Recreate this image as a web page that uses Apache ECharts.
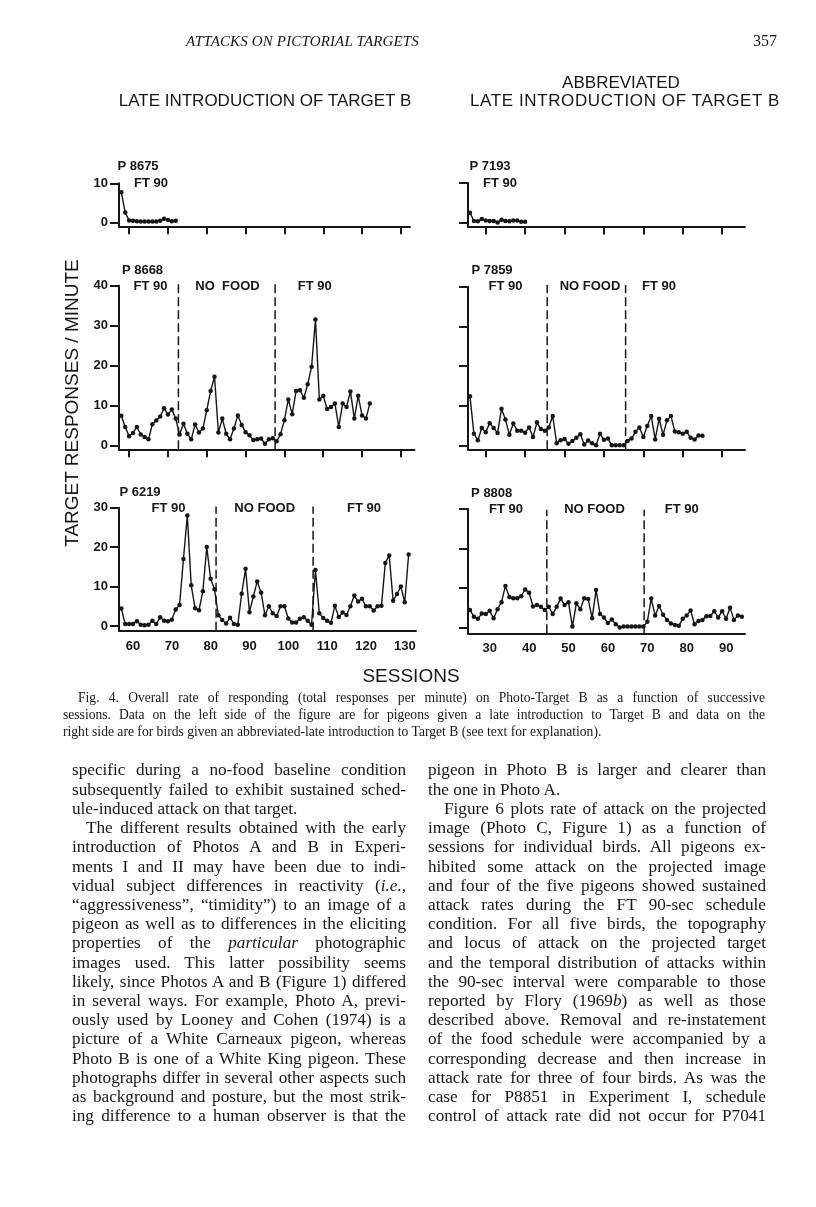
<!DOCTYPE html>
<html>
<head>
<meta charset="utf-8">
<script src="https://cdn.jsdelivr.net/npm/echarts@6/dist/echarts.min.js"></script>
<style>
body{margin:0;background:#fff;}
#page{position:relative;width:816px;height:1207px;overflow:hidden;background:#fff;}
#chart{position:absolute;left:0;top:0;width:816px;height:1207px;}
.tx{position:absolute;color:#161616;white-space:nowrap;}
.sans{font-family:"Liberation Sans",Arial,sans-serif;}
.serif{font-family:"Liberation Serif","Times New Roman",serif;}
.ln{position:absolute;font-family:"Liberation Serif","Times New Roman",serif;font-size:17.2px;line-height:19.2px;height:19.2px;text-align:justify;text-align-last:justify;color:#161616;}
.cap{position:absolute;font-family:"Liberation Serif","Times New Roman",serif;font-size:13.6px;line-height:17px;height:17px;text-align:justify;text-align-last:justify;color:#161616;}
.end{text-align-last:left;}
</style>
</head>
<body>
<div id="page">
  <div id="chart"></div>
  <div class="tx serif" style="left:186px;top:33px;font-size:15px;font-style:italic;letter-spacing:0.15px;">ATTACKS ON PICTORIAL TARGETS</div>
  <div class="tx serif" style="left:753px;top:32px;font-size:16px;">357</div>
  <div class="tx sans" style="left:521px;top:73px;width:200px;text-align:center;font-size:17px;">ABBREVIATED</div>
  <div class="tx sans" style="left:115px;top:91px;width:300px;text-align:center;font-size:17px;">LATE INTRODUCTION OF TARGET B</div>
  <div class="tx sans" style="left:465px;top:91px;width:320px;text-align:center;font-size:17px;letter-spacing:0.6px;">LATE INTRODUCTION OF TARGET B</div>
  <div class="tx sans" style="left:-78px;top:392px;width:300px;text-align:center;font-size:19px;transform:rotate(-90deg);">TARGET RESPONSES / MINUTE</div>
  <div class="tx sans" style="left:311px;top:665px;width:200px;text-align:center;font-size:19px;">SESSIONS</div>
  <div id="text"></div>
</div>
<script>
// 各鸽子的数据 (sessions are successive, starting at the first session)
var leftTicks = [60, 70, 80, 90, 100, 110, 120, 130];
var rightTicks = [30, 40, 50, 60, 70, 80, 90];

var p8675Start = 58;
var p8675 = [7.7, 2.5, 0.5, 0.4, 0.3, 0.2, 0.2, 0.2, 0.2, 0.2, 0.4, 0.9, 0.6, 0.3, 0.4];

var p8668Start = 58;
var p8668 = [7.4, 4.6, 2.3, 3.1, 4.6, 2.7, 2.1, 1.5, 5.3, 6.2, 7.2, 9.3, 7.7, 9.0, 6.7,
	2.7, 5.4, 2.9, 1.5, 5.2, 3.2, 4.2, 8.8, 13.6, 17.2, 3.2, 6.7, 2.9, 1.5, 4.2, 7.5, 5.1, 3.3, 2.5, 1.3, 1.5, 1.7, 0.4, 1.5, 1.8,
	1.0, 2.8, 6.3, 11.5, 7.8, 13.6, 13.8, 11.9, 15.3, 19.7, 31.5, 11.5, 12.4, 9.1, 9.6, 10.5, 4.6, 10.5, 9.6, 13.5, 6.7, 12.4, 7.5, 6.7, 10.5];
var p8668Phases = [72.7, 97.6];

var p6219Start = 58;
var p6219 = [4.4, 0.5, 0.5, 0.5, 1.2, 0.3, 0.2, 0.3, 1.3, 0.5, 2.2, 1.3, 1.2, 1.6, 4.2, 5.3, 17, 28, 10.3, 4.5, 4.0, 8.8, 20, 12, 9.3,
	2.7, 1.5, 0.6, 2.1, 0.5, 0.3, 8.2, 14.5, 3.5, 7.5, 11.3, 8.5, 2.7, 5.0, 3.2, 2.5, 5.0, 5.0, 1.9, 0.9, 0.9, 1.8, 2.2, 1.3, 0.3,
	14.2, 3.2, 2.0, 1.3, 0.8, 5.1, 2.3, 3.4, 2.8, 5.0, 7.7, 6.2, 6.9, 5.0, 5.0, 3.9, 5.0, 5.1, 16, 17.9, 6.4, 8.1, 10, 6.0, 18.1];
var p6219Phases = [82.4, 107.4];

var p7193Start = 26;
var p7193 = [2.5, 0.4, 0.3, 0.9, 0.5, 0.4, 0.4, 0.0, 0.7, 0.4, 0.3, 0.5, 0.5, 0.2, 0.2];

var p7859Start = 26;
var p7859 = [12.4, 2.9, 1.3, 4.4, 3.3, 5.6, 4.4, 3.1, 9.2, 6.5, 2.7, 5.5, 3.7, 3.7, 3.2, 4.5, 2.1, 5.8, 4.1, 3.7,
	4.5, 7.4, 0.5, 1.3, 1.6, 0.4, 1.1, 1.9, 2.8, 0.2, 1.2, 0.5, 0.0, 2.9, 1.4, 1.7, 0.0, 0.0, 0.0, 0.0,
	1.1, 1.7, 3.4, 4.5, 2.1, 4.9, 7.4, 1.5, 6.7, 2.7, 6.3, 7.4, 3.5, 3.3, 2.9, 3.4, 1.9, 1.5, 2.5, 2.4];
var p7859Phases = [45.6, 65.5];

var p8808Start = 26;
var p8808 = [4.4, 2.7, 2.2, 3.5, 3.4, 4.2, 2.3, 4.6, 6.4, 10.5, 7.7, 7.4, 7.4, 7.9, 9.6, 8.8, 5.3, 5.7, 5.2, 4.4,
	5.2, 3.4, 5.2, 7.3, 5.7, 6.4, 0.2, 6.1, 4.6, 7.4, 7.2, 2.3, 9.5, 3.4, 2.5, 1.1, 2.0, 0.8, 0.0, 0.2, 0.2, 0.2, 0.2, 0.2, 0.2,
	1.4, 7.3, 3.0, 5.4, 3.2, 1.9, 1.0, 0.6, 0.4, 2.2, 3.0, 4.3, 0.8, 1.6, 1.9, 2.8, 2.9, 4.1, 2.5, 4.1, 2.2, 5.0, 1.9, 3.0, 2.7];
var p8808Phases = [45.5, 70.2];

var leftLines = [
	'specific during a no-food baseline condition',
	'subsequently failed to exhibit sustained sched-',
	'ule-induced attack on that target.',
	'The different results obtained with the early',
	'introduction of Photos A and B in Experi-',
	'ments I and II may have been due to indi-',
	'vidual subject differences in reactivity (<i>i.e.</i>,',
	'\u201caggressiveness\u201d, \u201ctimidity\u201d) to an image of a',
	'pigeon as well as to differences in the eliciting',
	'properties of the <i>particular</i> photographic',
	'images used. This latter possibility seems',
	'likely, since Photos A and B (Figure 1) differed',
	'in several ways. For example, Photo A, previ-',
	'ously used by Looney and Cohen (1974) is a',
	'picture of a White Carneaux pigeon, whereas',
	'Photo B is one of a White King pigeon. These',
	'photographs differ in several other aspects such',
	'as background and posture, but the most strik-',
	'ing difference to a human observer is that the'
];
var rightLines = [
	'pigeon in Photo B is larger and clearer than',
	'the one in Photo A.',
	'Figure 6 plots rate of attack on the projected',
	'image (Photo C, Figure 1) as a function of',
	'sessions for individual birds. All pigeons ex-',
	'hibited some attack on the projected image',
	'and four of the five pigeons showed sustained',
	'attack rates during the FT 90-sec schedule',
	'condition. For all five birds, the topography',
	'and locus of attack on the projected target',
	'and the temporal distribution of attacks within',
	'the 90-sec interval were comparable to those',
	'reported by Flory (1969<i>b</i>) as well as those',
	'described above. Removal and re-instatement',
	'of the food schedule were accompanied by a',
	'corresponding decrease and then increase in',
	'attack rate for three of four birds. As was the',
	'case for P8851 in Experiment I, schedule',
	'control of attack rate did not occur for P7041'
];
var captionLines = [
	'Fig. 4. Overall rate of responding (total responses per minute) on Photo-Target B as a function of successive',
	'sessions. Data on the left side of the figure are for pigeons given a late introduction to Target B and data on the',
	'right side are for birds given an abbreviated-late introduction to Target B (see text for explanation).'
];

/* S 正文 */
var html = '';
captionLines.forEach(function(t, i) {
	var l = i == 0 ? 78 : 63;
	html += '<div class="cap' + (i == 2 ? ' end' : '') + '" style="left:' + l + 'px;top:' + (688.5 + i * 17) + 'px;width:' + (765 - l) + 'px">' + t + '</div>';
});
leftLines.forEach(function(t, i) {
	var l = i == 3 ? 86 : 72;
	html += '<div class="ln' + (i == 2 ? ' end' : '') + '" style="left:' + l + 'px;top:' + (760.4 + i * 19.22) + 'px;width:' + (406 - l) + 'px">' + t + '</div>';
});
rightLines.forEach(function(t, i) {
	var l = i == 2 ? 444 : 428;
	html += '<div class="ln' + (i == 1 ? ' end' : '') + '" style="left:' + l + 'px;top:' + (760.4 + i * 19.22) + 'px;width:' + (766 - l) + 'px">' + t + '</div>';
});
document.getElementById('text').innerHTML = html;

/* S 图表 */
var ink = '#161616';
var sans = '"Liberation Sans", Arial, sans-serif';

function pairs(start, vals) {
	return vals.map(function(v, i) { return [start + i, v]; });
}

var panels = [
	{ left: 119, top: 183.3, width: 291, height: 43, xMin: 57.4, xMax: 132.3, xTicks: leftTicks, yMin: -1, yMax: 10, yTicks: [0, 10],
		yLabels: true, xLabels: false, data: pairs(p8675Start, p8675), phases: [], phaseTop: 0 },
	{ left: 468, top: 183, width: 277, height: 43.5, xMin: 25.5, xMax: 95.8, xTicks: rightTicks, yMin: -1, yMax: 10, yTicks: [0, 10],
		yLabels: false, xLabels: false, data: pairs(p7193Start, p7193), phases: [], phaseTop: 0 },
	{ left: 119, top: 285.7, width: 295.5, height: 163.6, xMin: 57.4, xMax: 133.5, xTicks: leftTicks, yMin: -1, yMax: 40, yTicks: [0, 10, 20, 30, 40],
		yLabels: true, xLabels: false, data: pairs(p8668Start, p8668), phases: p8668Phases, phaseTop: 40.75 },
	{ left: 468, top: 286.7, width: 277, height: 162.6, xMin: 25.5, xMax: 95.8, xTicks: rightTicks, yMin: -1, yMax: 40, yTicks: [0, 10, 20, 30, 40],
		yLabels: false, xLabels: false, data: pairs(p7859Start, p7859), phases: p7859Phases, phaseTop: 40.4 },
	{ left: 119, top: 507.7, width: 297, height: 123, xMin: 57.4, xMax: 133.9, xTicks: leftTicks, yMin: -1.2, yMax: 30, yTicks: [0, 10, 20, 30],
		yLabels: true, xLabels: true, data: pairs(p6219Start, p6219), phases: p6219Phases, phaseTop: 30.3 },
	{ left: 468, top: 509, width: 277, height: 124.3, xMin: 25.5, xMax: 95.8, xTicks: rightTicks, yMin: -1.5, yMax: 30, yTicks: [0, 10, 20, 30],
		yLabels: false, xLabels: true, data: pairs(p8808Start, p8808), phases: p8808Phases, phaseTop: 29.8 }
];

var notes = [
	['P 8675', 138, 166], ['FT 90', 151, 183],
	['P 7193', 490, 166], ['FT 90', 500, 183],
	['P 8668', 142.5, 270.5], ['FT 90', 150.5, 286], ['NO  FOOD', 227.5, 286], ['FT 90', 314.7, 286],
	['P 7859', 492, 270], ['FT 90', 505.5, 286.7], ['NO FOOD', 590, 286.7], ['FT 90', 659, 286.7],
	['P 6219', 140, 492.7], ['FT 90', 168.5, 508.3], ['NO FOOD', 264.7, 508.3], ['FT 90', 364, 508.3],
	['P 8808', 491.7, 493.3], ['FT 90', 506, 509.3], ['NO FOOD', 594.5, 509.3], ['FT 90', 681.7, 509.3]
];

var grid = [], xAxis = [], yAxis = [], series = [];
panels.forEach(function(p, i) {
	grid.push({ left: p.left, top: p.top, width: p.width, height: p.height });
	xAxis.push({
		type: 'value', gridIndex: i, min: p.xMin, max: p.xMax,
		axisLine: { show: true, onZero: false, lineStyle: { color: ink, width: 2 } },
		axisTick: { show: !p.xLabels, customValues: p.xTicks, length: 8, lineStyle: { color: ink, width: 2 } },
		axisLabel: { show: p.xLabels, customValues: p.xTicks, margin: 9, padding: [0, 0, 0, 8],
			color: ink, fontSize: 13, fontWeight: 'bold', fontFamily: sans },
		splitLine: { show: false }
	});
	yAxis.push({
		type: 'value', gridIndex: i, min: p.yMin, max: p.yMax,
		axisLine: { show: true, onZero: false, lineStyle: { color: ink, width: 2 } },
		axisTick: { show: true, customValues: p.yTicks, length: 9, lineStyle: { color: ink, width: 2 } },
		axisLabel: { show: p.yLabels, customValues: p.yTicks, margin: 11,
			color: ink, fontSize: 13, fontWeight: 'bold', fontFamily: sans },
		splitLine: { show: false }
	});
	series.push({
		type: 'line', xAxisIndex: i, yAxisIndex: i, data: p.data,
		symbol: 'circle', symbolSize: 4.5, showSymbol: true,
		lineStyle: { color: ink, width: 1.4 }, itemStyle: { color: ink },
		animation: false, silent: true
	});
	p.phases.forEach(function(x) {
		series.push({
			type: 'line', xAxisIndex: i, yAxisIndex: i, clip: false,
			data: [[x, p.yMin], [x, p.phaseTop]],
			symbol: 'none', lineStyle: { color: ink, width: 1.5, type: [9, 4] },
			animation: false, silent: true
		});
	});
});

var chart = echarts.init(document.getElementById('chart'), null, { renderer: 'canvas' });
chart.setOption({
	backgroundColor: 'transparent',
	animation: false,
	grid: grid,
	xAxis: xAxis,
	yAxis: yAxis,
	series: series,
	graphic: notes.map(function(n) {
		return {
			type: 'text', x: n[1], y: n[2], silent: true,
			style: { text: n[0], fill: ink, font: 'bold 13px ' + sans, textAlign: 'center', textVerticalAlign: 'middle' }
		};
	})
});
</script>
</body>
</html>
